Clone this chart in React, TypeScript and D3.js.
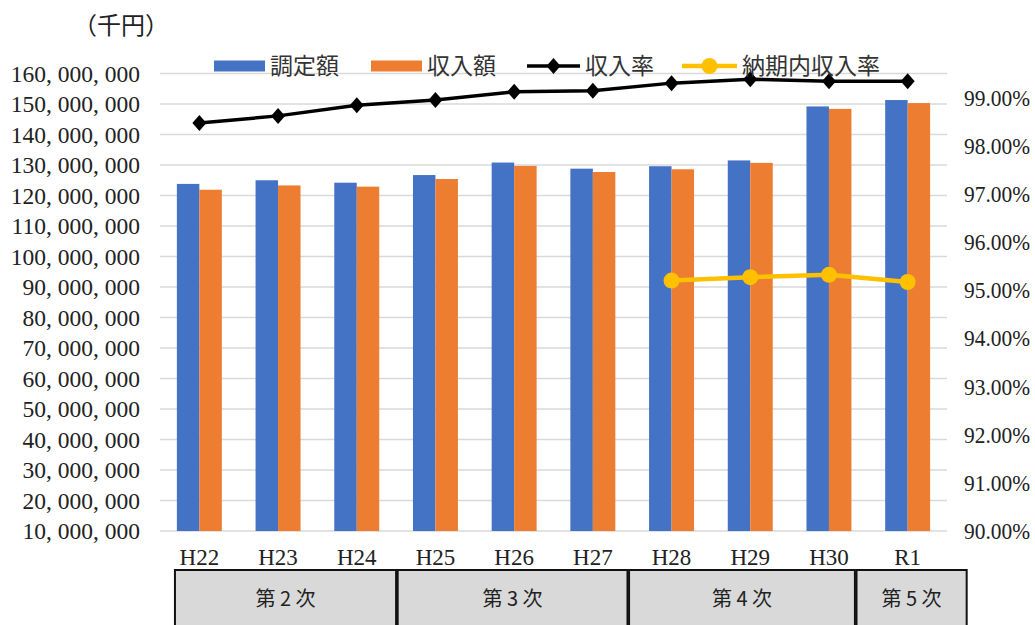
import React from "react";
import * as d3 from "d3";

// 年度
const categories = ["H22", "H23", "H24", "H25", "H26", "H27", "H28", "H29", "H30", "R1"];
// 調定額（千円）
const levied = [123800000, 125000000, 124200000, 126700000, 130800000, 128800000, 129600000, 131500000, 149200000, 151300000];
// 収入額（千円）
const collected = [121900000, 123300000, 122900000, 125400000, 129700000, 127700000, 128600000, 130700000, 148400000, 150300000];
// 収入率（%）
const collectionRate = [98.47, 98.62, 98.84, 98.95, 99.12, 99.14, 99.3, 99.38, 99.34, 99.34];
// 納期内収入率（%）
const onTimeRate: (number | null)[] = [null, null, null, null, null, null, 95.2, 95.27, 95.32, 95.17];
// 計画期間（カテゴリ位置の単位）
const periods = [
  { label: "第 2 次", from: 0.19, to: 3.0 },
  { label: "第 3 次", from: 3.02, to: 5.94 },
  { label: "第 4 次", from: 5.96, to: 8.83 },
  { label: "第 5 次", from: 8.85, to: 10.25 },
];
const leftTicks = d3.range(10000000, 160000001, 10000000);
const rightTicks = d3.range(90, 99.5, 1);

const W = 1035;
const H = 625;
const plot = { left: 160, right: 947, top: 73.5, bottom: 531 };

const BLUE = "#4472c4";
const ORANGE = "#ed7d31";
const YELLOW = "#ffc000";
const GRID = "#d9d9d9";
const SERIF = "'Liberation Serif', 'DejaVu Serif', serif";
const JP = "'Noto Sans CJK JP', sans-serif";

export default function App() {
  const x = d3.scaleBand<string>().domain(categories).range([plot.left, plot.right]).padding(0);
  const step = x.bandwidth();
  const barW = step / 3.5;
  const xInner = d3
    .scaleBand<string>()
    .domain(["levied", "collected"])
    .range([(step - 2 * barW) / 2, (step + 2 * barW) / 2]);
  const catPos = d3.scaleLinear().domain([0, categories.length]).range([plot.left, plot.right]);

  const yL = d3.scaleLinear().domain([10000000, 160000000]).range([plot.bottom, plot.top]);
  const yR = d3.scaleLinear().domain([90, 99.5]).range([plot.bottom, plot.top]);

  const fmtL = (v: number) => d3.format(",")(v).replace(/,/g, ", ");
  const fmtR = (v: number) => `${v.toFixed(2)}%`;
  const cx = (c: string) => (x(c) as number) + step / 2;

  const rateLine = d3
    .line<number>()
    .x((_, i) => cx(categories[i]))
    .y((d) => yR(d));
  const onTimeLine = d3
    .line<number | null>()
    .defined((d) => d != null)
    .x((_, i) => cx(categories[i]))
    .y((d) => yR(d as number));

  const diamond = (px: number, py: number, hw = 7, hh = 8) =>
    `M${px},${py - hh}L${px + hw},${py}L${px},${py + hh}L${px - hw},${py}Z`;

  const legendY = 66;

  return (
    <svg
      width={W}
      height={H}
      style={{ position: "absolute", left: 0, top: 0, background: "#fff" }}
    >
      {/* unit */}
      <text x={73} y={34} fontFamily={JP} fontSize={24} fill="#222">
        （千円）
      </text>

      {/* gridlines */}
      {leftTicks.map((t) => (
        <line
          key={t}
          x1={plot.left}
          x2={plot.right}
          y1={yL(t)}
          y2={yL(t)}
          stroke={GRID}
          strokeWidth={1.5}
        />
      ))}

      {/* left axis labels */}
      {leftTicks.map((t) => (
        <text
          key={t}
          x={140}
          y={yL(t) + 8}
          textAnchor="end"
          fontFamily={SERIF}
          fontSize={23.5}
          fill="#222"
        >
          {fmtL(t)}
        </text>
      ))}

      {/* right axis labels */}
      {rightTicks.map((t) => (
        <text
          key={t}
          x={964}
          y={yR(t) + 8}
          fontFamily={SERIF}
          fontSize={23}
          textLength={66}
          lengthAdjust="spacingAndGlyphs"
          fill="#222"
        >
          {fmtR(t)}
        </text>
      ))}

      {/* bars */}
      {categories.map((c, i) => {
        const x0 = x(c) as number;
        return (
          <g key={c}>
            <rect
              x={x0 + (xInner("levied") as number)}
              y={yL(levied[i])}
              width={xInner.bandwidth()}
              height={plot.bottom - yL(levied[i])}
              fill={BLUE}
            />
            <rect
              x={x0 + (xInner("collected") as number)}
              y={yL(collected[i])}
              width={xInner.bandwidth()}
              height={plot.bottom - yL(collected[i])}
              fill={ORANGE}
            />
          </g>
        );
      })}

      {/* collection rate */}
      <path d={rateLine(collectionRate) || ""} fill="none" stroke="#000" strokeWidth={3.5} strokeLinejoin="round" />
      {collectionRate.map((v, i) => (
        <path key={i} d={diamond(cx(categories[i]), yR(v))} fill="#000" />
      ))}

      {/* on-time collection rate */}
      <path d={onTimeLine(onTimeRate) || ""} fill="none" stroke={YELLOW} strokeWidth={4.5} strokeLinejoin="round" />
      {onTimeRate.map((v, i) =>
        v == null ? null : <circle key={i} cx={cx(categories[i])} cy={yR(v)} r={8} fill={YELLOW} />
      )}

      {/* category labels */}
      {categories.map((c) => (
        <text
          key={c}
          x={cx(c)}
          y={565}
          textAnchor="middle"
          fontFamily={SERIF}
          fontSize={23}
          fill="#222"
        >
          {c}
        </text>
      ))}

      {/* plan periods */}
      {periods.map((p) => (
        <g key={p.label}>
          <rect
            x={catPos(p.from)}
            y={570}
            width={catPos(p.to) - catPos(p.from)}
            height={70}
            fill="#d9d9d9"
            stroke="#111"
            strokeWidth={2}
          />
          <text
            x={(catPos(p.from) + catPos(p.to)) / 2}
            y={606}
            textAnchor="middle"
            fontFamily={JP}
            fontSize={20}
            fill="#222"
          >
            {p.label}
          </text>
        </g>
      ))}

      {/* legend */}
      <g fontFamily={JP} fontSize={23} fill="#333">
        <rect x={214} y={legendY - 5.5} width={51} height={11} fill={BLUE} />
        <text x={270} y={legendY + 8}>調定額</text>
        <rect x={371} y={legendY - 5.5} width={51} height={11} fill={ORANGE} />
        <text x={427} y={legendY + 8}>収入額</text>
        <line x1={527} x2={580} y1={legendY} y2={legendY} stroke="#000" strokeWidth={3.5} />
        <path d={diamond(553.5, legendY)} fill="#000" />
        <text x={585} y={legendY + 8}>収入率</text>
        <line x1={682} x2={737} y1={legendY} y2={legendY} stroke={YELLOW} strokeWidth={4.5} />
        <circle cx={709.5} cy={legendY} r={8} fill={YELLOW} />
        <text x={742} y={legendY + 8}>納期内収入率</text>
      </g>
    </svg>
  );
}
